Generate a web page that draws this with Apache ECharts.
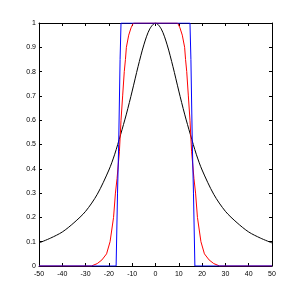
<!DOCTYPE html>
<html><head><meta charset="utf-8">
<script src="https://cdn.jsdelivr.net/npm/echarts@6/dist/echarts.min.js"></script>
<style>html,body{margin:0;padding:0;background:#fff}#c{width:300px;height:300px}</style>
</head><body><div id="c"></div>
<script>
var xTicks = [-50,-40,-30,-20,-10,0,10,20,30,40,50];
var yTicks = [0,0.1,0.2,0.3,0.4,0.5,0.6,0.7,0.8,0.9,1];
var blackX = [-50,-45,-40,-35,-30,-25,-20,-17.5,-15,-12.5,-10,-7.5,-5,-2.5,0,2.5,5,7.5,10,12.5,15,17.5,20,25,30,35,40,45,50];
var blackY = [0.095,0.115,0.14,0.178,0.225,0.295,0.395,0.46,0.54,0.625,0.72,0.82,0.91,0.975,1,0.975,0.91,0.82,0.72,0.625,0.54,0.46,0.395,0.295,0.225,0.178,0.14,0.115,0.095];
var redX = [-50,-27.5,-25,-23,-21,-19.5,-18,-17.2,-16.5,-15.5,-14.8,-14.1,-13.4,-12.9,-12.5,-11.5,-10.5,-9.5,9.5,10.5,11.5,12.5,12.9,13.4,14.1,14.8,15.5,16.5,17.2,18,19.5,21,23,25,27.5,50];
var redY = [0,0,0.01,0.025,0.05,0.1,0.2,0.3,0.36,0.47,0.6,0.7,0.8,0.85,0.9,0.95,0.98,1,1,0.98,0.95,0.9,0.85,0.8,0.7,0.6,0.47,0.36,0.3,0.2,0.1,0.05,0.025,0.01,0,0];
var blueX = [-50,-16.9,-16.3,-15.8,-15.2,-14.8,14.8,15.2,15.8,16.3,16.9,50];
var blueY = [0,0,0.3,0.5,0.85,1,1,0.85,0.5,0.3,0,0];
function zip(a,b){return a.map(function(v,i){return [v,b[i]];});}
var chart = echarts.init(document.getElementById('c'), null, {renderer:'canvas'});
var lineC = '#000';
var lab = {fontFamily:'Liberation Sans, Arial, sans-serif', fontSize:7, color:'#000'};
chart.setOption({
  animation:false,
  grid:{left:39,right:28,top:23,bottom:34,containLabel:false},
  xAxis:[{type:'value',min:-50,max:50,interval:10,position:'bottom',
    axisLine:{onZero:false,lineStyle:{color:lineC,width:1}},
    axisTick:{inside:true,length:3,lineStyle:{color:lineC}},
    axisLabel:Object.assign({margin:5,formatter:function(v){return xTicks.indexOf(v)>=0?String(v):'';}},lab),
    splitLine:{show:false}},
    {type:'value',min:-50,max:50,interval:10,position:'top',
    axisLine:{onZero:false,lineStyle:{color:lineC,width:1}},
    axisTick:{inside:true,length:3,lineStyle:{color:lineC}},
    axisLabel:{show:false},splitLine:{show:false}}],
  yAxis:[{type:'value',min:0,max:1,interval:0.1,position:'left',
    axisLine:{onZero:false,lineStyle:{color:lineC,width:1}},
    axisTick:{inside:true,length:3,lineStyle:{color:lineC}},
    axisLabel:Object.assign({margin:3,formatter:function(v){var r=Math.round(v*10)/10;return yTicks.indexOf(r)>=0?String(r):'';}},lab),
    splitLine:{show:false}},
    {type:'value',min:0,max:1,interval:0.1,position:'right',
    axisLine:{onZero:false,lineStyle:{color:lineC,width:1}},
    axisTick:{inside:true,length:3,lineStyle:{color:lineC}},
    axisLabel:{show:false},splitLine:{show:false}}],
  series:[
    {type:'line',data:zip(blackX,blackY),smooth:0.3,showSymbol:false,lineStyle:{color:'#000',width:1},z:2},
    {type:'line',data:zip(redX,redY),showSymbol:false,lineStyle:{color:'#ff0000',width:1},z:3},
    {type:'line',data:zip(blueX,blueY),showSymbol:false,lineStyle:{color:'#0000ff',width:1},z:4}
  ]
});
</script></body></html>
